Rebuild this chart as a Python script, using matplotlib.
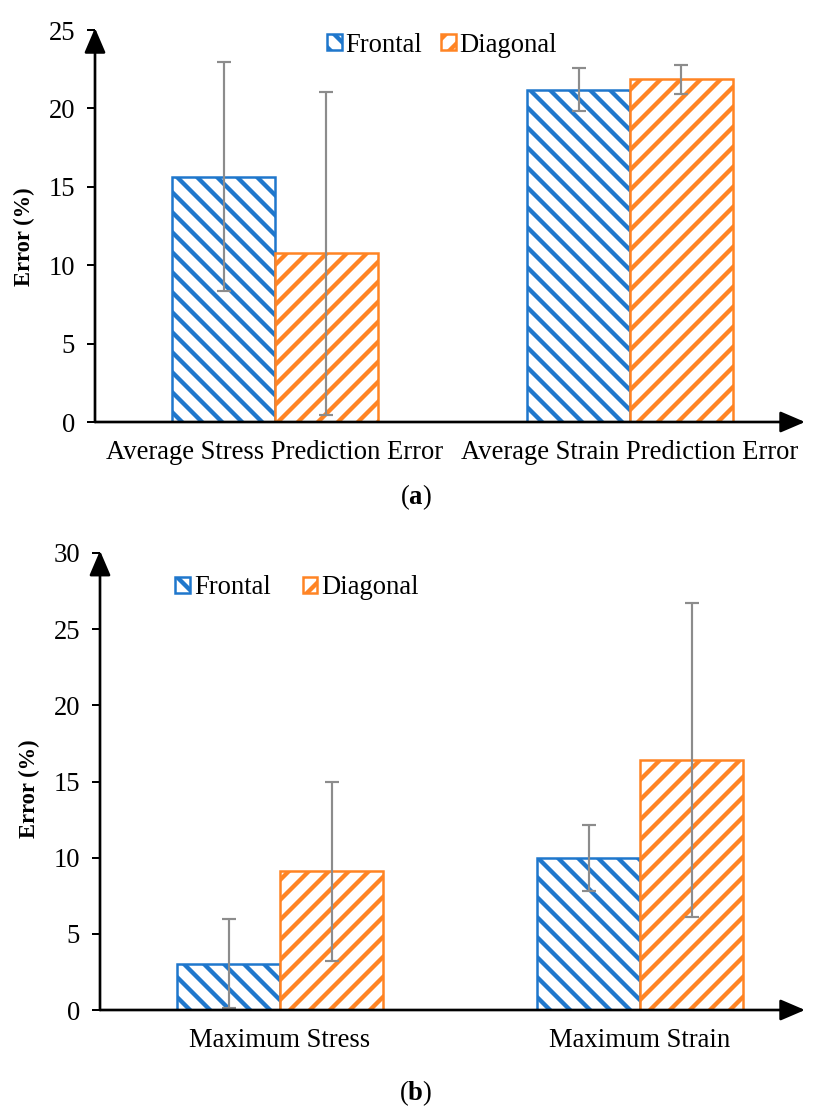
import numpy as np
import matplotlib
matplotlib.use('Agg')
import matplotlib.pyplot as plt

# %%
# Data
cats_a = ['Average Stress Prediction Error', 'Average Strain Prediction Error']
frontal_a = [15.65, 21.2]
frontal_a_err = [7.3, 1.35]
diagonal_a = [10.75, 21.85]
diagonal_a_err = [10.3, 0.92]

cats_b = ['Maximum Stress', 'Maximum Strain']
frontal_b = [3.05, 10.0]
frontal_b_err = [2.9, 2.17]
diagonal_b = [9.1, 16.43]
diagonal_b_err = [5.88, 10.3]

series_names = ['Frontal', 'Diagonal']

# %%
# Style
plt.rcParams['font.family'] = ['Liberation Serif', 'DejaVu Serif']
plt.rcParams['mathtext.fontset'] = 'custom'
plt.rcParams['mathtext.rm'] = 'Liberation Serif'
plt.rcParams['mathtext.bf'] = 'Liberation Serif:bold'
plt.rcParams['hatch.linewidth'] = 2.6

c_blue = '#1f77cc'
c_orange = '#ff8424'
c_err = '#8c8c8c'
fs = 16

fig = plt.figure(figsize=(818/120, 1106/120), dpi=120)


def panel(ax, cats, fr, fr_err, dg, dg_err, ymax, xlim, width, ylab_y):
    x = np.arange(len(cats))
    ax.bar(x - width/2, fr, width, color='white', edgecolor=c_blue,
           hatch='\\\\', linewidth=1.5, label=series_names[0], zorder=2)
    ax.bar(x + width/2, dg, width, color='white', edgecolor=c_orange,
           hatch='//', linewidth=1.5, label=series_names[1], zorder=2)
    ax.errorbar(x - width/2, fr, yerr=fr_err, fmt='none', ecolor=c_err,
                elinewidth=1.3, capsize=4, capthick=1.3, zorder=3)
    ax.errorbar(x + width/2, dg, yerr=dg_err, fmt='none', ecolor=c_err,
                elinewidth=1.3, capsize=4, capthick=1.3, zorder=3)
    ax.set_xlim(*xlim)
    ax.set_ylim(0, ymax)
    ax.set_yticks(np.arange(0, ymax + 1, 5))
    ax.set_xticks(x)
    ax.set_xticklabels(cats, fontsize=fs)
    ax.tick_params(axis='x', length=0, pad=11)
    ax.tick_params(axis='y', length=5, width=1.2, labelsize=fs, pad=7)
    for s in ['top', 'right', 'left', 'bottom']:
        ax.spines[s].set_visible(False)
    ax.set_ylabel('Error (%)', fontsize=13.5, fontweight='bold')
    ax.yaxis.set_label_coords(-0.085, ylab_y)
    # axis arrows
    ax.annotate('', xy=(1.0, 0), xytext=(0, 0), xycoords='axes fraction',
                arrowprops=dict(arrowstyle='-|>,head_length=0.7,head_width=0.3',
                                lw=1.6, color='k', shrinkA=0, shrinkB=0,
                                mutation_scale=18), annotation_clip=False)
    ax.annotate('', xy=(0, 1.005), xytext=(0, 0), xycoords='axes fraction',
                arrowprops=dict(arrowstyle='-|>,head_length=0.7,head_width=0.3',
                                lw=1.6, color='k', shrinkA=0, shrinkB=0,
                                mutation_scale=18), annotation_clip=False)


ax1 = fig.add_axes([95/818, 1 - 422/1106, 710/818, 392/1106])
panel(ax1, cats_a, frontal_a, frontal_a_err, diagonal_a, diagonal_a_err,
      25, (-0.507, 1.493), 0.29, 0.472)
h, l = ax1.get_legend_handles_labels()
fig.legend(h, l, loc='center', bbox_to_anchor=(442/818, 1 - 45/1106),
           ncol=2, frameon=False, fontsize=fs, handlelength=0.55,
           handleheight=0.55, handletextpad=0.15, columnspacing=0.7)

ax2 = fig.add_axes([100/818, 1 - 1010/1106, 705/818, 457/1106])
panel(ax2, cats_b, frontal_b, frontal_b_err, diagonal_b, diagonal_b_err,
      30, (-0.5, 1.458), 0.286, 0.484)
h, l = ax2.get_legend_handles_labels()
fig.legend(h, l, loc='center', bbox_to_anchor=(297/818, 1 - 588/1106),
           ncol=2, frameon=False, fontsize=fs, handlelength=0.55,
           handleheight=0.55, handletextpad=0.15, columnspacing=1.2)

fig.text(416/818, 1 - 497/1106, r'($\mathbf{a}$)', ha='center', va='center', fontsize=fs)
fig.text(416/818, 1 - 1093/1106, r'($\mathbf{b}$)', ha='center', va='center', fontsize=fs)

fig.savefig('out.png', dpi=120)
